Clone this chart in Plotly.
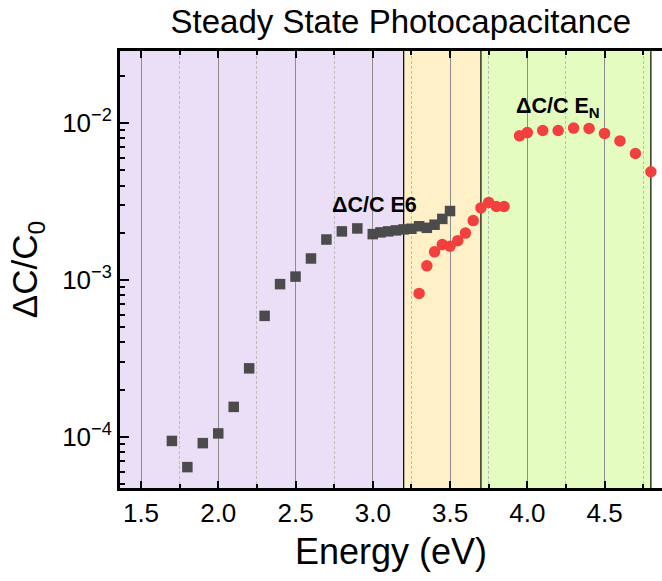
import plotly.graph_objects as go

# Photon energy (eV) and normalised capacitance change for the two deep levels
energy_e6 = [1.7, 1.8, 1.9, 2.0, 2.1, 2.2, 2.3, 2.4, 2.5, 2.6, 2.7, 2.8, 2.9, 3.0,
             3.05, 3.1, 3.15, 3.2, 3.25, 3.3, 3.35, 3.4, 3.45, 3.5]
dc_e6 = [9.4e-5, 6.4e-5, 9.1e-5, 1.05e-4, 1.55e-4, 2.73e-4, 5.9e-4, 9.4e-4, 1.05e-3,
         1.37e-3, 1.81e-3, 2.04e-3, 2.13e-3, 1.96e-3, 2.01e-3, 2.04e-3, 2.07e-3,
         2.1e-3, 2.12e-3, 2.2e-3, 2.15e-3, 2.25e-3, 2.45e-3, 2.75e-3]

energy_en = [3.3, 3.35, 3.4, 3.45, 3.5, 3.55, 3.6, 3.65, 3.7, 3.75, 3.8, 3.85,
             3.95, 4.0, 4.1, 4.2, 4.3, 4.4, 4.5, 4.6, 4.7, 4.8]
dc_en = [8.2e-4, 1.23e-3, 1.51e-3, 1.68e-3, 1.64e-3, 1.78e-3, 1.99e-3, 2.39e-3,
         2.88e-3, 3.12e-3, 2.94e-3, 2.94e-3, 8.3e-3, 8.7e-3, 8.97e-3, 8.97e-3,
         9.3e-3, 9.25e-3, 8.6e-3, 7.7e-3, 6.4e-3, 4.9e-3]

# Shaded spectral bands: (start eV, end eV, fill)
bands = [(1.0, 3.2, "#EADFF6"), (3.2, 3.7, "#FFF0C8"), (3.7, 4.8, "#E5FCC1")]
band_edges = [3.2, 3.7, 4.8]

x_range = [1.364, 4.872]
y_range_log = [-4.327, -1.54]

major_y = [1e-4, 1e-3, 1e-2]
major_y_text = ["10<sup>−4</sup>", "10<sup>−3</sup>", "10<sup>−2</sup>"]
minor_y = [k * 10.0 ** e for e in (-5, -4, -3, -2) for k in range(2, 10)]

FONT = "Liberation Sans, Arial, sans-serif"

fig = go.Figure()

fig.add_trace(go.Scatter(
    x=energy_e6, y=dc_e6, mode="markers", name="ΔC/C E6",
    marker=dict(symbol="square", size=10.5, color="#4B4B4B", line=dict(width=0)),
))
fig.add_trace(go.Scatter(
    x=energy_en, y=dc_en, mode="markers", name="ΔC/C EN",
    marker=dict(symbol="circle", size=11.5, color="#F2403F", line=dict(width=0)),
))

shapes = []
for x0, x1, col in bands:
    shapes.append(dict(type="rect", xref="x", yref="paper", x0=x0, x1=x1, y0=0, y1=1,
                       fillcolor=col, line=dict(width=0), layer="below"))
for xe in band_edges:
    shapes.append(dict(type="line", xref="x", yref="paper", x0=xe, x1=xe, y0=0, y1=1,
                       line=dict(color="black", width=1.2), layer="between"))

fig.update_layout(
    width=662, height=581,
    margin=dict(l=120, r=0, t=51, b=93),
    paper_bgcolor="white", plot_bgcolor="white",
    showlegend=False,
    font=dict(family=FONT, color="black"),
    shapes=shapes,
    title=dict(text="Steady State Photocapacitance", font=dict(size=33, family=FONT),
               xref="paper", x=0.518, xanchor="center",
               yref="container", y=1 - 21 / 581, yanchor="middle"),
    xaxis=dict(
        range=x_range, tick0=1.5, dtick=0.5, tickformat=".1f",
        showline=True, linecolor="black", linewidth=3, mirror="ticks",
        ticks="inside", ticklen=7, tickwidth=2, tickcolor="black",
        tickfont=dict(size=26, family=FONT),
        showgrid=True, gridcolor="#8C8C8C", gridwidth=1,
        minor=dict(dtick=0.25, tick0=1.5, ticks="inside", ticklen=4, tickwidth=2,
                   tickcolor="black", showgrid=True, gridcolor="#BDBDBD",
                   gridwidth=1, griddash="3px,2px"),
        zeroline=False,
        title=dict(text="Energy (eV)", font=dict(size=36, family=FONT), standoff=12),
    ),
    yaxis=dict(
        type="log", range=y_range_log,
        tickmode="array", tickvals=major_y, ticktext=major_y_text,
        showline=True, linecolor="black", linewidth=3, mirror=False,
        ticks="inside", ticklen=9, tickwidth=2, tickcolor="black",
        tickfont=dict(size=26, family=FONT),
        showgrid=False, zeroline=False,
        minor=dict(tickmode="array", tickvals=minor_y, ticks="inside", ticklen=5,
                   tickwidth=2, tickcolor="black", showgrid=False),
        title=dict(text="ΔC/C<sub>0</sub>", font=dict(size=35, family=FONT), standoff=14),
    ),
    yaxis2=dict(
        type="log", range=y_range_log, overlaying="y", side="right", anchor="x",
        tickmode="array", tickvals=major_y, showticklabels=False,
        showline=False, ticks="inside", ticklen=7, tickwidth=2, tickcolor="black",
        showgrid=False, zeroline=False,
        minor=dict(tickmode="array", tickvals=minor_y, ticks="inside", ticklen=3,
                   tickwidth=2, tickcolor="black", showgrid=False),
    ),
)

fig.add_annotation(x=2.72, y=-2.52, xref="x", yref="y", text="<b>ΔC/C E6</b>",
                   showarrow=False, xanchor="left", yanchor="middle",
                   font=dict(size=21.5, family=FONT, color="black"))
fig.add_annotation(x=3.915, y=-1.9, xref="x", yref="y", text="<b>ΔC/C E<sub>N</sub></b>",
                   showarrow=False, xanchor="left", yanchor="middle",
                   font=dict(size=21.5, family=FONT, color="black"))

fig.write_html("out.html")
